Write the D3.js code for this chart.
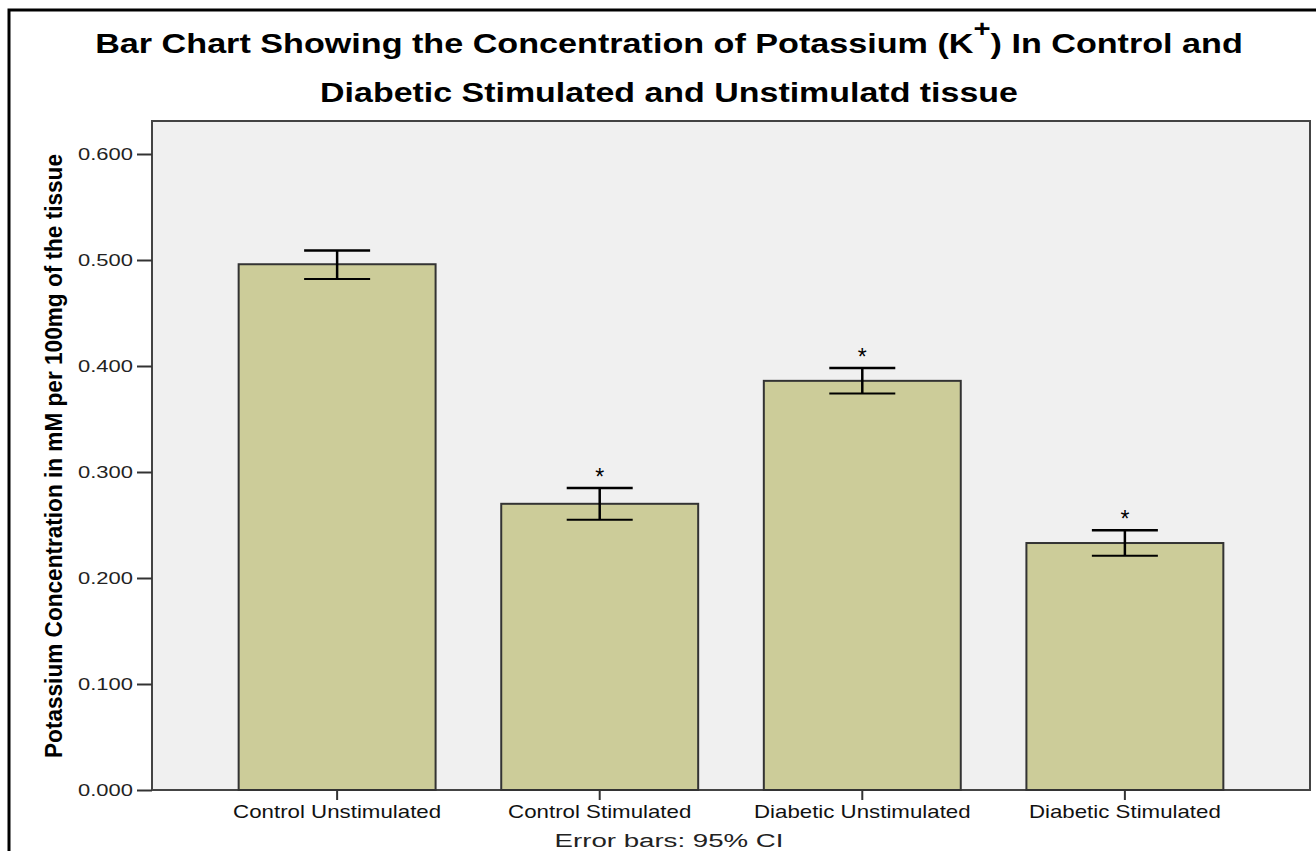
<!DOCTYPE html>
<html>
<head>
<meta charset="utf-8">
<script src="https://cdn.jsdelivr.net/npm/d3@7"></script>
<style>
  body { margin: 0; background: #fff; }
  svg { display: block; }
</style>
</head>
<body>
<svg id="chart" width="1316" height="851"></svg>
<script>
// data
var categories = ['Control Unstimulated', 'Control Stimulated', 'Diabetic Unstimulated', 'Diabetic Stimulated'];
var means = [0.496, 0.270, 0.386, 0.233];
var ciLow = [0.482, 0.255, 0.374, 0.221];
var ciHigh = [0.509, 0.285, 0.398, 0.245];
var marked = [false, true, true, true];
var yTicks = [0, 0.1, 0.2, 0.3, 0.4, 0.5, 0.6];

var svg = d3.select('#chart');
var plot = {left: 152, right: 1310, top: 121, bottom: 790};
var FONT = 'Liberation Sans, Arial, sans-serif';

//The original renderer draws its type wide, so stretch text horizontally to a width
function widthScale(node, target) {
    return target / node.getBBox().width;
}

// outer frame (open on the right and bottom)
svg.append('path')
    .attr('d', 'M9,851V10H1316')
    .attr('fill', 'none')
    .attr('stroke', '#000')
    .attr('stroke-width', 3);

var x = d3.scaleBand()
    .domain(categories)
    .range([plot.left, plot.right])
    .paddingInner(0.25)
    .paddingOuter(0.33);

var y = d3.scaleLinear()
    .domain([0, 0.6])
    .range([plot.bottom, 154]);

svg.append('rect')
    .attr('x', plot.left)
    .attr('y', plot.top)
    .attr('width', plot.right - plot.left)
    .attr('height', plot.bottom - plot.top)
    .attr('fill', '#f0f0f0')
    .attr('stroke', '#444')
    .attr('stroke-width', 2);

//Bars
var rows = categories.map(function(c, i) {
    return {cat: c, mean: means[i], lo: ciLow[i], hi: ciHigh[i], star: marked[i]};
});

svg.selectAll('.bar')
    .data(rows)
    .enter().append('rect')
    .attr('class', 'bar')
    .attr('x', function(d) { return x(d.cat); })
    .attr('y', function(d) { return y(d.mean); })
    .attr('width', x.bandwidth())
    .attr('height', function(d) { return y(0) - y(d.mean); })
    .attr('fill', '#cccc99')
    .attr('stroke', '#333')
    .attr('stroke-width', 2);

//Error bars
var capHalf = 33;
var err = svg.selectAll('.err')
    .data(rows)
    .enter().append('g')
    .attr('class', 'err')
    .attr('transform', function(d) { return 'translate(' + (x(d.cat) + x.bandwidth() / 2) + ',0)'; })
    .attr('stroke', '#000');

err.append('line')
    .attr('x1', 0).attr('x2', 0)
    .attr('y1', function(d) { return y(d.hi); })
    .attr('y2', function(d) { return y(d.lo); })
    .attr('stroke-width', 2.5);
err.append('line')
    .attr('x1', -capHalf).attr('x2', capHalf)
    .attr('y1', function(d) { return y(d.hi); })
    .attr('y2', function(d) { return y(d.hi); })
    .attr('stroke-width', 2.5);
err.append('line')
    .attr('x1', -capHalf).attr('x2', capHalf)
    .attr('y1', function(d) { return y(d.lo); })
    .attr('y2', function(d) { return y(d.lo); })
    .attr('stroke-width', 2);

err.filter(function(d) { return d.star; })
    .append('text')
    .attr('stroke', 'none')
    .attr('y', function(d) { return y(d.hi) - 3; })
    .attr('text-anchor', 'middle')
    .style('font-family', FONT)
    .style('font-size', '23px')
    .text('*');

//Axes
var yAxis = svg.append('g')
    .attr('transform', 'translate(' + plot.left + ',0)')
    .call(d3.axisLeft(y).tickValues(yTicks).tickFormat(d3.format('.3f')).tickSize(15).tickPadding(4));
yAxis.select('.domain').remove();
yAxis.selectAll('line').attr('stroke', '#333').attr('stroke-width', 2);
var yLabels = yAxis.selectAll('text')
    .style('font-family', FONT)
    .style('font-size', '17px')
    .attr('fill', '#222');
var ky = widthScale(yLabels.node(), 55);
yLabels.attr('x', 0).attr('transform', 'translate(-19,0) scale(' + ky + ',1)');

var xAxis = svg.append('g')
    .attr('transform', 'translate(0,' + plot.bottom + ')')
    .call(d3.axisBottom(x).tickSize(10).tickPadding(5));
xAxis.select('.domain').remove();
xAxis.selectAll('line').attr('stroke', '#333').attr('stroke-width', 2);
var xLabels = xAxis.selectAll('text')
    .style('font-family', FONT)
    .style('font-size', '18px')
    .attr('fill', '#111');
var kx = widthScale(xLabels.node(), 208);
xLabels.attr('transform', 'scale(' + kx + ',1)');

//Titles
var title = svg.append('text')
    .attr('text-anchor', 'middle')
    .style('font-family', FONT)
    .style('font-weight', 'bold')
    .style('font-size', '28px');
title.append('tspan').text('Bar Chart Showing the Concentration of Potassium (K');
title.append('tspan').attr('dy', -16).style('font-size', '24px').text('+');
title.append('tspan').attr('dy', 16).text(') In Control and');
title.attr('transform', 'translate(669,53) scale(' + widthScale(title.node(), 1148) + ',1)');

var title2 = svg.append('text')
    .attr('text-anchor', 'middle')
    .style('font-family', FONT)
    .style('font-weight', 'bold')
    .style('font-size', '28px')
    .text('Diabetic Stimulated and Unstimulatd tissue');
title2.attr('transform', 'translate(669,102) scale(' + widthScale(title2.node(), 698) + ',1)');

//y title: condensed bold, squeezed to the span it has in the picture
svg.append('text')
    .attr('transform', 'translate(62,' + ((154 + 758) / 2) + ') rotate(-90)')
    .attr('text-anchor', 'middle')
    .attr('textLength', 604)
    .attr('lengthAdjust', 'spacingAndGlyphs')
    .style('font-family', FONT)
    .style('font-weight', 'bold')
    .style('font-size', '23px')
    .text('Potassium Concentration in mM per 100mg of the tissue');

var note = svg.append('text')
    .attr('text-anchor', 'middle')
    .style('font-family', FONT)
    .style('font-size', '19px')
    .attr('fill', '#222')
    .text('Error bars: 95% CI');
note.attr('transform', 'translate(669,847) scale(' + widthScale(note.node(), 229) + ',1)');
</script>
</body>
</html>
